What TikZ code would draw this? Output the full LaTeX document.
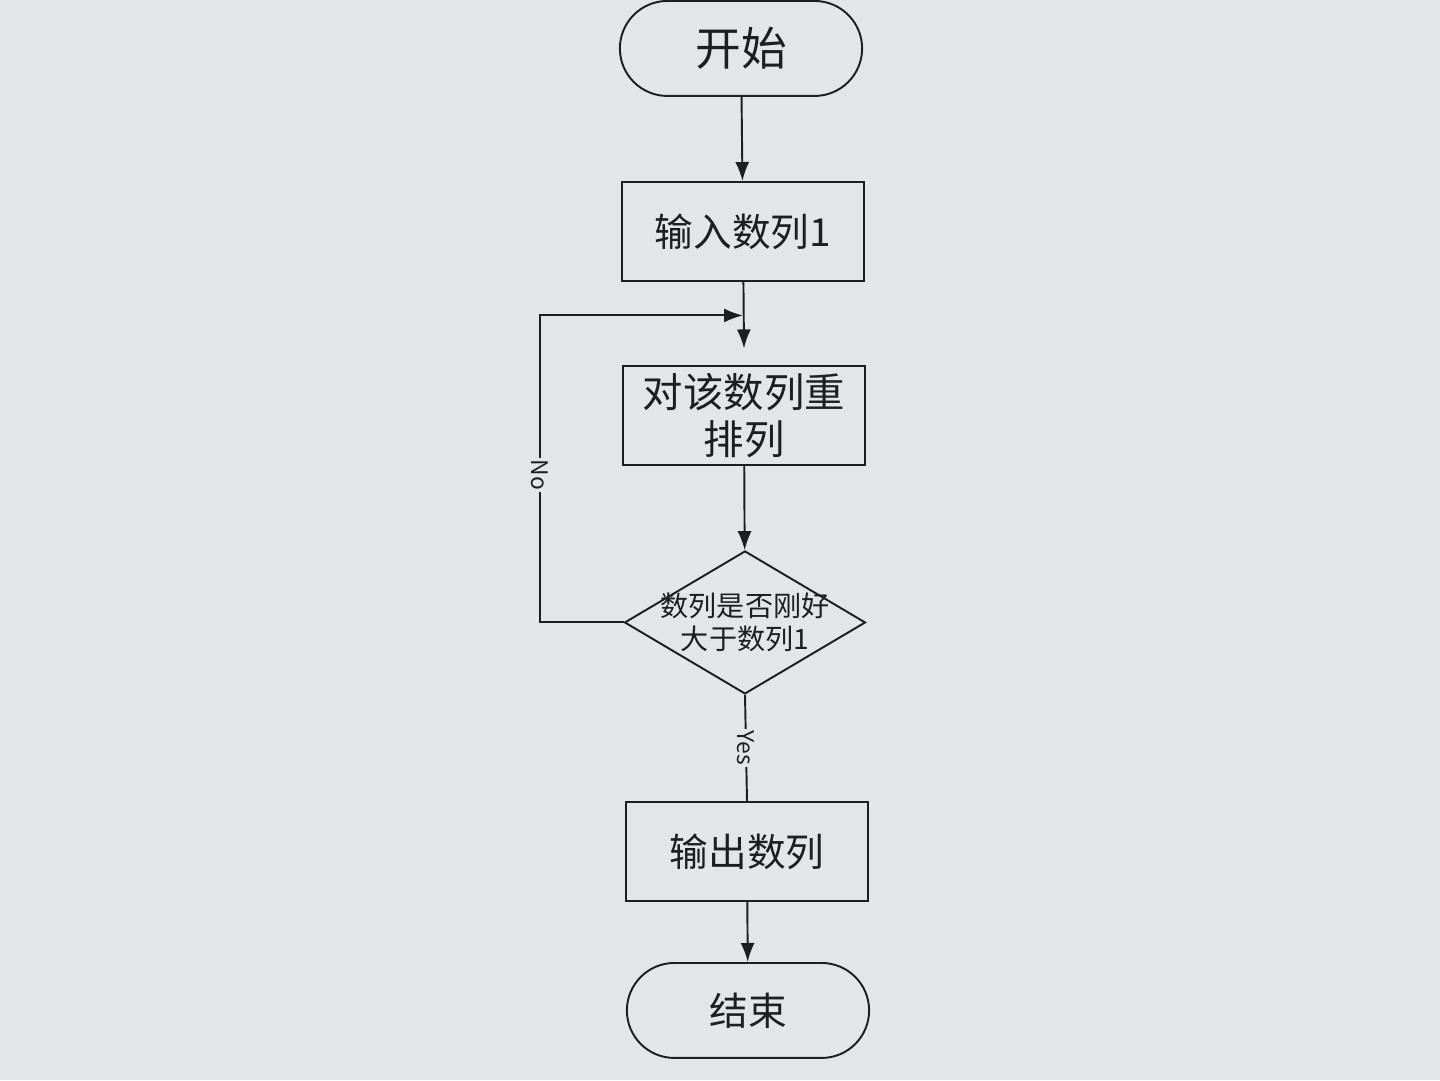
\documentclass[tikz,border=0pt]{standalone}
\usepackage{fontspec}
\setmainfont{Noto Sans CJK SC}
\usetikzlibrary{shapes.geometric,shapes.misc,arrows.meta}
\definecolor{screenbg}{HTML}{E3E6E9}
\definecolor{chartink}{HTML}{1E1E1E}

\begin{document}
\begin{tikzpicture}[
  x=0.02cm,
  y=-0.02cm,
  every node/.style={font=\fontsize{22}{26}\selectfont, text=chartink},
  >={Latex[length=0.38cm,width=0.28cm]},
  terminal/.style={draw=chartink, line width=1.1pt, rounded rectangle, minimum width=5.08cm, minimum height=1.9cm},
  process/.style={draw=chartink, line width=1.1pt, rectangle, minimum width=4.84cm, minimum height=1.98cm, align=center},
  decision/.style={draw=chartink, line width=1.1pt, diamond, aspect=1.69, inner sep=0pt, minimum width=4.82cm, minimum height=2.86cm},
  flow/.style={draw=chartink, line width=1.1pt},
  branch/.style={font=\fontsize{13}{15}\selectfont, fill=screenbg, inner sep=1pt, rotate=-90}
]
  \fill[screenbg] (0,0) rectangle (1440,1080);

  \node[terminal, font=\fontsize{26}{30}\selectfont] (start) at (741,48) {开始};
  \node[process] (input) at (743,231) {输入数列1};
  \node[process, font=\fontsize{23}{27}\selectfont] (sort) at (744,415) {对该数列重\\排列};
  \node[decision] (check) at (745,622) {};
  \node[font=\fontsize{16}{19}\selectfont, align=center] (checktext) at (check) {数列是否刚好\\大于数列1};
  \node[process] (output) at (747,851) {输出数列};
  \node[terminal] (finish) at (748,1010) {结束};

  \coordinate (sortin) at (744,348);
  \coordinate (merge) at (743,315);

  \draw[flow, ->] (start) -- (input);
  \draw[flow, ->] (input) -- (sortin);
  \draw[flow, ->] (sort) -- (check);
  \draw[flow, ->] (check.west) -- ++(-84,0) |- node[branch, pos=0.24] {No} (merge);
  \draw[flow] (check.south) -- node[branch] {Yes} (output.north);
  \draw[flow, ->] (output) -- (finish);
\end{tikzpicture}
\end{document}
